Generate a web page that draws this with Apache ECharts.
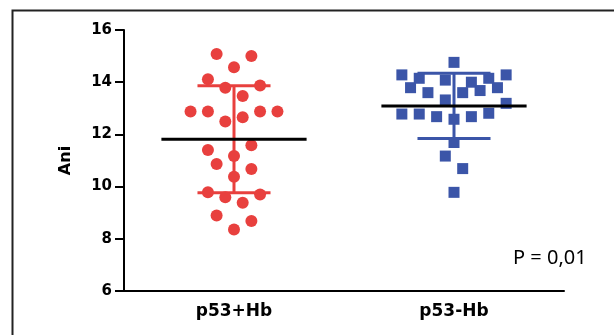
<!DOCTYPE html>
<html>
<head>
<meta charset="utf-8">
<script src="https://cdn.jsdelivr.net/npm/echarts@6/dist/echarts.min.js"></script>
<style>html,body{margin:0;padding:0;background:#fff;}#c{width:614px;height:335px;}</style>
</head>
<body>
<div id="c"></div>
<script>
// ---- data ----
var categories = ['p53+Hb', 'p53-Hb'];
var yTicks = [6, 8, 10, 12, 14, 16];
var redValues = [15.08, 15.0, 14.57, 14.11, 13.79, 13.87, 13.47, 12.88, 12.88, 12.88, 12.88, 12.66, 12.49,
                 11.40, 11.58, 11.17, 10.87, 10.67, 10.38, 9.78, 9.59, 9.70, 9.38, 8.89, 8.68, 8.36];
var redJitter = [-2, 2, 0, -3, -1, 3, 1, -5, -3, 3, 5, 1, -1, -3, 2, 0, -2, 2, 0, -3, -1, 3, 1, -2, 2, 0];
var blueValues = [14.76, 14.28, 14.28, 14.15, 14.15, 14.08, 13.79, 14.0, 13.79, 13.60, 13.60, 13.68, 13.32,
                  13.19, 12.78, 12.78, 12.68, 12.58, 12.68, 12.81, 11.69, 11.17, 10.69, 9.78];
var blueJitter = [0, -6, 6, -4, 4, -1, -5, 2, 5, -3, 1, 3, -1, 6, -6, -4, -2, 0, 2, 4, 0, -1, 1, 0];
var means = [11.81, 13.09];
var sds = [2.05, 1.25];
var pText = 'P = 0,01';

// ---- layout constants ----
var JSTEP = 0.0395;
var MEAN_HALF = 0.33;
var CAP_HALF = 0.166;
var RED = '#E8403E';
var BLUE = '#3B55A8';
var colors = [RED, BLUE];

function pts(vals, jit, idx) {
  return vals.map(function (v, i) { return [idx + jit[i] * JSTEP, v]; });
}

var chart = echarts.init(document.getElementById('c'));
var option = {
  backgroundColor: '#ffffff',
  animation: false,
  grid: { left: 124, right: 50, top: 30, bottom: 44 },
  xAxis: [{
    type: 'category',
    data: categories,
    boundaryGap: true,
    axisLine: { onZero: false, lineStyle: { color: '#000', width: 2 } },
    axisTick: { alignWithLabel: true, length: 6, lineStyle: { color: '#000', width: 2 } },
    axisLabel: { color: '#000', fontFamily: 'DejaVu Sans', fontWeight: 'bold', fontSize: 17, margin: 12 },
    splitLine: { show: false }
  }, {
    type: 'value', min: -0.5, max: 1.5, show: false
  }],
  yAxis: {
    type: 'value', min: yTicks[0], max: yTicks[yTicks.length - 1], interval: 2,
    name: 'Ani', nameLocation: 'middle', nameGap: 50,
    nameTextStyle: { color: '#000', fontFamily: 'DejaVu Sans', fontWeight: 'bold', fontSize: 16 },
    axisLine: { show: true, onZero: false, lineStyle: { color: '#000', width: 2 } },
    axisTick: { show: true, length: 9, lineStyle: { color: '#000', width: 2 } },
    axisLabel: { color: '#000', fontFamily: 'DejaVu Sans', fontWeight: 'bold', fontSize: 15, margin: 12 },
    splitLine: { show: false }
  },
  series: [{
    type: 'custom',
    xAxisIndex: 1,
    z: 1,
    data: means.map(function (m, i) { return [i, m, sds[i]]; }),
    renderItem: function (params, api) {
      var x = api.value(0), m = api.value(1), s = api.value(2);
      var c = colors[params.dataIndex];
      var top = api.coord([x, m + s]), bot = api.coord([x, m - s]);
      var cl = api.coord([x - CAP_HALF, m + s]), cr = api.coord([x + CAP_HALF, m + s]);
      var bl = api.coord([x - CAP_HALF, m - s]), br = api.coord([x + CAP_HALF, m - s]);
      var style = { stroke: c, lineWidth: 3 };
      return {
        type: 'group',
        children: [
          { type: 'line', shape: { x1: top[0], y1: top[1], x2: bot[0], y2: bot[1] }, style: style },
          { type: 'line', shape: { x1: cl[0], y1: cl[1], x2: cr[0], y2: cr[1] }, style: style },
          { type: 'line', shape: { x1: bl[0], y1: bl[1], x2: br[0], y2: br[1] }, style: style }
        ]
      };
    }
  }, {
    type: 'scatter', xAxisIndex: 1, z: 2,
    symbol: 'circle', symbolSize: 12,
    itemStyle: { color: RED, opacity: 1 },
    data: pts(redValues, redJitter, 0)
  }, {
    type: 'scatter', xAxisIndex: 1, z: 2,
    symbol: 'rect', symbolSize: 11,
    itemStyle: { color: BLUE, opacity: 1 },
    data: pts(blueValues, blueJitter, 1)
  }, {
    type: 'custom',
    xAxisIndex: 1,
    z: 3,
    data: means.map(function (m, i) { return [i, m]; }),
    renderItem: function (params, api) {
      var x = api.value(0), m = api.value(1);
      var l = api.coord([x - MEAN_HALF, m]), r = api.coord([x + MEAN_HALF, m]);
      return { type: 'line', shape: { x1: l[0], y1: l[1], x2: r[0], y2: r[1] }, style: { stroke: '#000', lineWidth: 3 } };
    }
  }],
  graphic: [{
    type: 'rect', left: 10, top: 8, z: -10,
    shape: { x: 0, y: 0, width: 640, height: 360 },
    style: { fill: 'none', stroke: '#222', lineWidth: 2 }
  }, {
    type: 'text', left: 513, top: 248,
    style: { text: pText, fill: '#000', font: '20px "Noto Sans"' }
  }]
};
chart.setOption(option);
</script>
</body>
</html>
